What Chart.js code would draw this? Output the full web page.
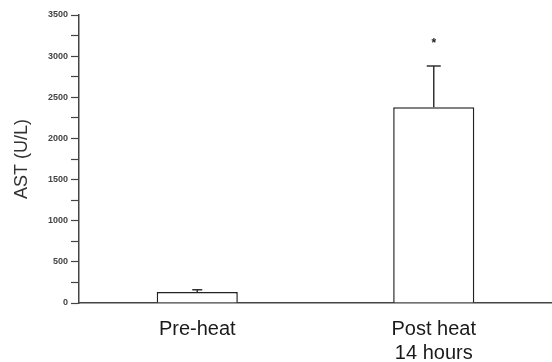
<!DOCTYPE html>
<html>
<head>
<meta charset="utf-8">
<script src="https://cdn.jsdelivr.net/npm/chart.js@4"></script>
<style>
  html, body { margin: 0; padding: 0; background: #fff; }
  #wrap { width: 552px; height: 362px; }
</style>
</head>
<body>
<div id="wrap"><canvas id="grafico"></canvas></div>
<script>
// dados
const grupos = ["Pre-heat", ["Post heat", "14 hours"]];
const medias = [135, 2380];
const erros = [25, 500];
const marcas = ["", "*"];
const posMarca = [0, 3170];
const ticksY = [0, 500, 1000, 1500, 2000, 2500, 3000, 3500];

// barras de erro (só a parte de cima) e o asterisco
const errosPlugin = {
  id: "errosPlugin",
  afterDatasetsDraw(chart) {
    const ctx = chart.ctx;
    const y = chart.scales.y;
    const meta = chart.getDatasetMeta(0);
    ctx.save();
    ctx.strokeStyle = "#333";
    ctx.fillStyle = "#222";
    ctx.lineWidth = 1.5;
    meta.data.forEach((bar, i) => {
      const topo = y.getPixelForValue(medias[i]);
      const fim = y.getPixelForValue(medias[i] + erros[i]);
      const meia = i === 0 ? 5 : 7;
      ctx.beginPath();
      ctx.moveTo(bar.x, topo);
      ctx.lineTo(bar.x, fim);
      ctx.moveTo(bar.x - meia, fim);
      ctx.lineTo(bar.x + meia, fim);
      ctx.stroke();
      if (marcas[i]) {
        ctx.font = "bold 12px Arial, 'Liberation Sans'";
        ctx.textAlign = "center";
        ctx.textBaseline = "middle";
        ctx.fillText(marcas[i], bar.x, y.getPixelForValue(posMarca[i]) + 2);
      }
    });
    ctx.restore();
  }
};

new Chart(document.getElementById("grafico").getContext("2d"), {
  type: "bar",
  data: {
    labels: grupos,
    datasets: [{
      data: medias,
      backgroundColor: "#fff",
      borderColor: "#222",
      borderWidth: 1.5,
      barPercentage: 0.343,
      categoryPercentage: 1
    }]
  },
  options: {
    responsive: true,
    maintainAspectRatio: false,
    animation: false,
    devicePixelRatio: 1,
    layout: { padding: { top: 15, left: 11, right: 0, bottom: 0 } },
    plugins: {
      legend: { display: false },
      tooltip: { enabled: false }
    },
    scales: {
      x: {
        grid: { display: false },
        border: { color: "#444", width: 1.5 },
        ticks: {
          color: "#1a1a1a",
          padding: 6,
          font: { family: "Arial, 'Liberation Sans'", size: 20, lineHeight: 1.2 }
        },
        afterFit: s => { s.height = 59; }
      },
      y: {
        min: 0,
        max: 3500,
        afterBuildTicks: s => {
          const t = [];
          for (let v = 0; v <= 3500; v += 250) t.push({ value: v });
          s.ticks = t;
        },
        grid: {
          drawOnChartArea: false,
          tickLength: 8,
          tickColor: "#444",
          tickWidth: 1.2
        },
        border: { color: "#444", width: 1.5 },
        ticks: {
          color: "#444",
          padding: 3,
          font: { family: "Arial, 'Liberation Sans'", size: 9, weight: "bold" },
          callback: v => ticksY.includes(v) ? String(v) : ""
        },
        title: {
          display: true,
          text: "AST (U/L)",
          color: "#333",
          padding: 0,
          font: { family: "Arial, 'Liberation Sans'", size: 18 }
        },
        afterFit: s => { s.width = 68; }
      }
    }
  },
  plugins: [errosPlugin]
});
</script>
</body>
</html>
